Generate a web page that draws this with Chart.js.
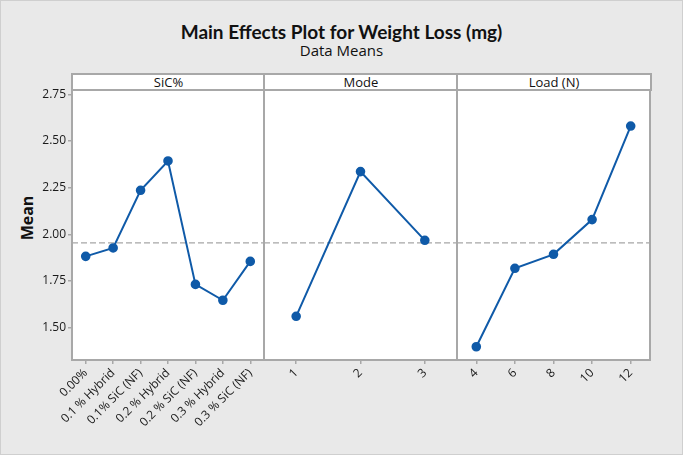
<!DOCTYPE html>
<html><head><meta charset="utf-8">
<script src="https://cdn.jsdelivr.net/npm/chart.js@4/dist/chart.umd.min.js"></script>
<style>
html,body{margin:0;padding:0;background:#e9e9e9;}
#wrap{position:relative;width:683px;height:455px;background:#e9e9e9;box-shadow:inset 0 0 0 1px #cfcfcf;overflow:hidden;font-family:"Open Sans",sans-serif;color:#111;}
canvas{position:absolute;top:0;}
.t{position:absolute;left:0;width:683px;text-align:center;white-space:nowrap;}
#title{top:22px;font:bold 19px/19px Lato,sans-serif;}
#sub{top:43px;font:15px/15px "Open Sans",sans-serif;}
.hdr{position:absolute;top:73px;height:18px;box-sizing:border-box;border:2px solid #a8a8a8;background:#fff;text-align:center;font:13px/14px "Open Sans",sans-serif;}
#mean{position:absolute;left:27px;top:218px;transform:translate(-50%,-50%) rotate(-90deg);font:bold 16px/16px "Open Sans",sans-serif;white-space:nowrap;}
</style></head>
<body>
<div id="wrap">
  <div class="t" id="title">Main Effects Plot for Weight Loss (mg)</div>
  <div class="t" id="sub">Data Means</div>
  <div class="hdr" style="left:71px;width:195px;">SiC%</div>
  <div class="hdr" style="left:263px;width:196px;">Mode</div>
  <div class="hdr" style="left:456px;width:196px;">Load (N)</div>
  <div id="mean">Mean</div>
  <canvas id="c1" width="266" height="455" style="left:0;width:266px;height:455px;"></canvas>
  <canvas id="c2" width="197" height="455" style="left:262px;width:197px;height:455px;"></canvas>
  <canvas id="c3" width="197" height="455" style="left:455px;width:197px;height:455px;"></canvas>
</div>
<script>
// ---- data ----
const sicCategories = ["0.00%", "0.1 % Hybrid", "0.1% SiC (NF)", "0.2 % Hybrid", "0.2 % SiC (NF)", "0.3 % Hybrid", "0.3 % SiC (NF)"];
const sicMeans = [1.882, 1.927, 2.236, 2.393, 1.732, 1.647, 1.855];
const modeCategories = ["1", "2", "3"];
const modeMeans = [1.561, 2.336, 1.968];
const loadCategories = ["4", "6", "8", "10", "12"];
const loadMeans = [1.398, 1.818, 1.893, 2.079, 2.580];
const grandMean = 1.954;
const yTicks = [1.50, 1.75, 2.00, 2.25, 2.50, 2.75];
const yMin = 1.327, yMax = 2.773;

const BLUE = '#0f5aa8';
const FRAME = '#a8a8a8';
const TICKFONT = {family: '"Open Sans", sans-serif', size: 12};

const panelPlugin = {
  id: 'panel',
  beforeDraw(chart) {
    const a = chart.chartArea, ctx = chart.ctx;
    ctx.save();
    ctx.fillStyle = '#ffffff';
    ctx.fillRect(a.left, a.top, a.right - a.left, a.bottom - a.top);
    ctx.restore();
  },
  beforeDatasetsDraw(chart) {
    const a = chart.chartArea, ctx = chart.ctx;
    const y = chart.scales.y.getPixelForValue(grandMean);
    ctx.save();
    ctx.strokeStyle = '#a6a6a6';
    ctx.lineWidth = 1.2;
    ctx.setLineDash([6, 3]);
    ctx.beginPath();
    ctx.moveTo(a.left, y);
    ctx.lineTo(a.right, y);
    ctx.stroke();
    ctx.restore();
  },
  afterDraw(chart) {
    const a = chart.chartArea, ctx = chart.ctx;
    ctx.save();
    ctx.strokeStyle = FRAME;
    ctx.lineWidth = 2;
    ctx.strokeRect(a.left, a.top, a.right - a.left, a.bottom - a.top);
    ctx.restore();
  }
};

function makeChart(id, labels, values, showY) {
  return new Chart(document.getElementById(id), {
    type: 'line',
    data: {
      labels: labels,
      datasets: [{
        data: values,
        borderColor: BLUE,
        backgroundColor: BLUE,
        borderWidth: 2,
        pointRadius: 3.8,
        pointBackgroundColor: BLUE,
        pointBorderColor: BLUE,
        tension: 0,
        clip: false
      }]
    },
    options: {
      responsive: false,
      animation: false,
      events: [],
      layout: {autoPadding: false, padding: {top: 90, left: showY ? 0 : 2, right: 2, bottom: 0}},
      plugins: {legend: {display: false}, tooltip: {enabled: false}},
      scales: {
        x: {
          type: 'category',
          offset: true,
          border: {display: false},
          grid: {display: true, drawOnChartArea: false, drawTicks: true, tickLength: 4, color: FRAME, lineWidth: 1.5, offset: false},
          ticks: {autoSkip: false, minRotation: 45, maxRotation: 45, color: '#1a1a1a', font: TICKFONT, padding: 2},
          afterFit(s) { s.height = 95; s.paddingLeft = 0; s.paddingRight = 0; }
        },
        y: {
          display: showY,
          min: yMin, max: yMax,
          border: {display: false},
          grid: {display: true, drawOnChartArea: false, drawTicks: true, tickLength: 4, color: FRAME, lineWidth: 1.5},
          ticks: {color: '#1a1a1a', font: TICKFONT, padding: 2, callback: v => Number(v).toFixed(2)},
          afterBuildTicks(s) { s.ticks = yTicks.map(v => ({value: v})); },
          afterFit(s) { s.width = showY ? 72 : 0; s.paddingTop = 0; s.paddingBottom = 0; }
        }
      }
    },
    plugins: [panelPlugin]
  });
}

makeChart('c1', sicCategories, sicMeans, true);
makeChart('c2', modeCategories, modeMeans, false);
makeChart('c3', loadCategories, loadMeans, false);
</script>
</body></html>
